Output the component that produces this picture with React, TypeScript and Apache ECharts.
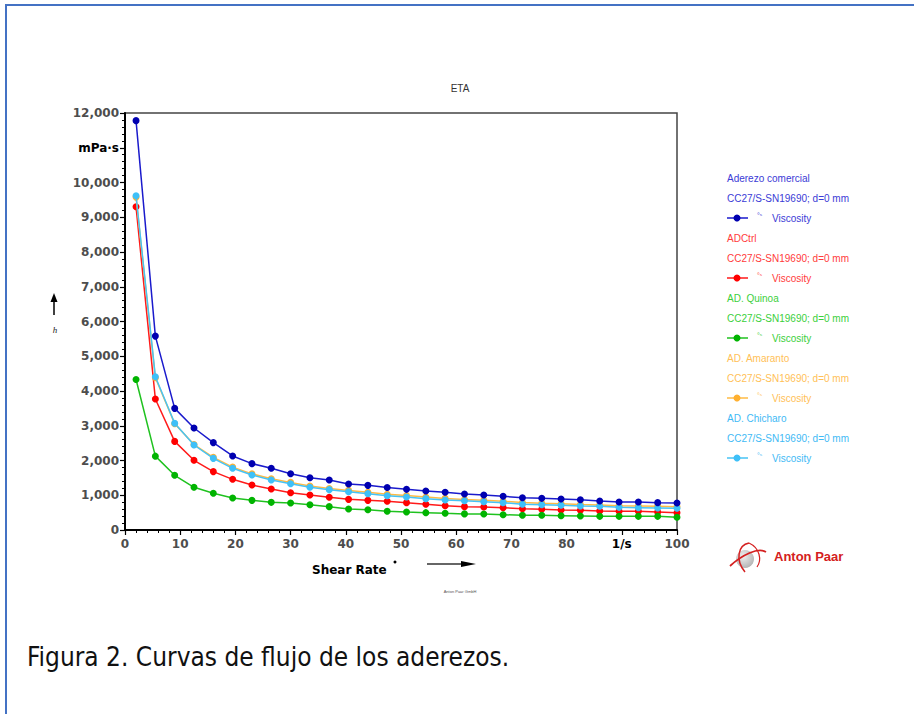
import React, { useEffect, useRef } from "react";
import * as echarts from "echarts";

// ---------- DATA ----------
const shearRate = [2, 5.5, 9, 12.5, 16, 19.5, 23, 26.5, 30, 33.5, 37, 40.5, 44, 47.5, 51, 54.5, 58, 61.5, 65, 68.5, 72, 75.5, 79, 82.5, 86, 89.5, 93, 96.5, 100];

const comercial = [11780, 5580, 3500, 2935, 2515, 2130, 1910, 1775, 1620, 1505, 1440, 1325, 1285, 1225, 1170, 1122, 1084, 1036, 1007, 969, 930, 911, 892, 873, 835, 806, 806, 787, 777];
const adCtrl = [9300, 3770, 2550, 2005, 1680, 1458, 1295, 1180, 1074, 1007, 940, 882, 853, 825, 787, 739, 700, 672, 662, 643, 614, 595, 576, 566, 547, 537, 537, 518, 499];
const quinoa = [4330, 2125, 1573, 1228, 1055, 921, 853, 796, 777, 729, 672, 604, 585, 542, 518, 499, 480, 464, 460, 441, 422, 422, 412, 403, 393, 393, 393, 393, 365];
const amaranto = [9580, 4380, 3060, 2460, 2090, 1810, 1615, 1475, 1370, 1265, 1195, 1140, 1085, 1030, 990, 950, 910, 880, 855, 830, 790, 770, 755, 735, 720, 700, 690, 680, 670];
const chicharo = [9620, 4412, 3070, 2446, 2062, 1775, 1583, 1439, 1333, 1228, 1161, 1103, 1046, 988, 950, 902, 863, 844, 815, 787, 739, 729, 710, 691, 681, 652, 643, 633, 624];

const seriesNames = ["Aderezo comercial", "ADCtrl", "AD. Quinoa", "AD. Amaranto", "AD. Chicharo"];
const seriesData = [comercial, adCtrl, quinoa, amaranto, chicharo];
const lineColors = ["#1a1acc", "#ff1a1a", "#1fc21f", "#ffbb44", "#47c3f5"];
const markerColors = ["#0000b0", "#ff0000", "#00b400", "#ffb030", "#3ec0f8"];
const legendTextColors = ["#3b3bd6", "#ff3b3b", "#3bcf3b", "#ffbf57", "#3fbaf5"];
const measuringSystem = "CC27/S-SN19690; d=0 mm";
const variableName = "Viscosity";

const xTickLabels = ["0", "10", "20", "30", "40", "50", "60", "70", "80", "1/s", "100"];
const yTickLabels = ["0", "1,000", "2,000", "3,000", "4,000", "5,000", "6,000", "7,000", "8,000", "9,000", "10,000", "mPa·s", "12,000"];

const title = "ETA";
const xAxisName = "Shear Rate";
const caption = "Figura 2. Curvas de flujo de los aderezos.";

export default function App() {
  const ref = useRef<HTMLDivElement>(null);

  useEffect(() => {
    if (!ref.current) return;
    const chart = echarts.init(ref.current, null, { renderer: "svg" });

    const axisFont = "DejaVu Sans";
    const rich = {
      n: { color: "#4d4d4d", fontWeight: "bold", fontSize: 12, fontFamily: axisFont },
      u: { color: "#000", fontWeight: "bold", fontSize: 12, fontFamily: axisFont },
    };
    const isUnit = (s: string) => /[a-z]/i.test(s);

    const drawOrder = [1, 2, 3, 4, 0];
    const series = drawOrder.map((i) => ({
      name: seriesNames[i],
      type: "line",
      data: shearRate.map((x, k) => [x, seriesData[i][k]]),
      symbol: "circle",
      symbolSize: 7,
      lineStyle: { color: lineColors[i], width: 1.5 },
      itemStyle: { color: markerColors[i] },
      z: 3 + drawOrder.indexOf(i),
    }));

    const legendX = 727;
    const legendY0 = 178;
    const rowH = 20;
    const legendGraphics: any[] = [];
    seriesNames.forEach((name, i) => {
      const y = legendY0 + i * 3 * rowH;
      legendGraphics.push({
        type: "text",
        x: legendX,
        y,
        style: { text: name, fill: legendTextColors[i], font: "10px 'Liberation Sans'", textVerticalAlign: "middle" },
      });
      legendGraphics.push({
        type: "text",
        x: legendX,
        y: y + rowH,
        style: { text: measuringSystem, fill: legendTextColors[i], font: "10px 'Liberation Sans'", textVerticalAlign: "middle" },
      });
      legendGraphics.push({
        type: "line",
        shape: { x1: legendX, y1: y + 2 * rowH, x2: legendX + 21, y2: y + 2 * rowH },
        style: { stroke: lineColors[i], lineWidth: 1.5 },
      });
      legendGraphics.push({
        type: "circle",
        shape: { cx: legendX + 10, cy: y + 2 * rowH, r: 3.5 },
        style: { fill: markerColors[i] },
      });
      legendGraphics.push({
        type: "text",
        x: legendX + 30,
        y: y + 2 * rowH - 3,
        style: { text: "°ˢ", fill: legendTextColors[i], font: "7px 'Liberation Sans'", textVerticalAlign: "middle" },
      });
      legendGraphics.push({
        type: "text",
        x: legendX + 45,
        y: y + 2 * rowH,
        style: { text: variableName, fill: legendTextColors[i], font: "10px 'Liberation Sans'", textVerticalAlign: "middle" },
      });
    });

    chart.setOption({
      animation: false,
      backgroundColor: "#ffffff",
      grid: {
        left: 125,
        right: 237,
        top: 113,
        bottom: 184,
        show: true,
        borderColor: "#444",
        borderWidth: 1.5,
        backgroundColor: "transparent",
      },
      xAxis: {
        type: "value",
        min: 0,
        max: 100,
        interval: 10,
        axisLine: { show: true, lineStyle: { color: "#000", width: 2 } },
        axisTick: { show: true, length: 5, lineStyle: { color: "#000", width: 1.2 } },
        minorTick: { show: true, splitNumber: 5, length: 3, lineStyle: { color: "#000", width: 1 } },
        splitLine: { show: false },
        axisLabel: {
          margin: 8,
          formatter: (v: number) => {
            const s = xTickLabels[Math.round(v / 10)] ?? "";
            return isUnit(s) ? `{u|${s}}` : `{n|${s}}`;
          },
          rich,
        },
      },
      yAxis: {
        type: "value",
        min: 0,
        max: 12000,
        interval: 1000,
        axisLine: { show: true, lineStyle: { color: "#000", width: 2 } },
        axisTick: { show: true, length: 5, lineStyle: { color: "#000", width: 1.2 } },
        minorTick: { show: true, splitNumber: 5, length: 3, lineStyle: { color: "#000", width: 1 } },
        splitLine: { show: false },
        axisLabel: {
          margin: 6,
          formatter: (v: number) => {
            const s = yTickLabels[Math.round(v / 1000)] ?? "";
            return isUnit(s) ? `{u|${s}}` : `{n|${s}}`;
          },
          rich,
        },
      },
      series,
      graphic: [
        { type: "rect", shape: { x: 5, y: 4, width: 909, height: 2 }, style: { fill: "#4472c4" }, silent: true },
        { type: "rect", shape: { x: 5, y: 4, width: 2, height: 710 }, style: { fill: "#4472c4" }, silent: true },
        {
          type: "text",
          x: 460,
          y: 88,
          style: { text: title, fill: "#333", font: "10px 'Liberation Sans'", textAlign: "center", textVerticalAlign: "middle" },
        },
        { type: "line", shape: { x1: 54, y1: 315, x2: 54, y2: 300 }, style: { stroke: "#000", lineWidth: 1.5 } },
        { type: "polygon", shape: { points: [[50.5, 302], [57.5, 302], [54, 293]] }, style: { fill: "#000" } },
        {
          type: "text",
          x: 55,
          y: 330,
          style: { text: "h", fill: "#222", font: "italic 9px 'Liberation Serif'", textAlign: "center", textVerticalAlign: "middle" },
        },
        {
          type: "text",
          x: 312,
          y: 570,
          style: { text: xAxisName, fill: "#000", font: "bold 12px 'DejaVu Sans'", textVerticalAlign: "middle" },
        },
        { type: "circle", shape: { cx: 395, cy: 562, r: 1.5 }, style: { fill: "#000" } },
        { type: "line", shape: { x1: 427, y1: 564, x2: 464, y2: 564 }, style: { stroke: "#333", lineWidth: 1.5 } },
        { type: "polygon", shape: { points: [[461, 561], [476, 564], [461, 567]] }, style: { fill: "#000" } },
        {
          type: "text",
          x: 460,
          y: 591,
          style: { text: "Anton Paar GmbH", fill: "#555", font: "4px 'Liberation Sans'", textAlign: "center", textVerticalAlign: "middle" },
        },
        {
          type: "circle",
          shape: { cx: 745, cy: 559, r: 9 },
          style: {
            fill: new echarts.graphic.RadialGradient(0.4, 0.35, 0.8, [
              { offset: 0, color: "#f0f0f0" },
              { offset: 1, color: "#a8a8a8" },
            ]),
          },
        },
        {
          type: "bezierCurve",
          shape: { x1: 730, y1: 566, x2: 766, y2: 552, cpx1: 742, cpy1: 555, cpx2: 758, cpy2: 547 },
          style: { stroke: "#d42020", lineWidth: 1.8, fill: "none" },
        },
        {
          type: "bezierCurve",
          shape: { x1: 745, y1: 572, x2: 749, y2: 543, cpx1: 735, cpy1: 560, cpx2: 738, cpy2: 545 },
          style: { stroke: "#d42020", lineWidth: 1.5, fill: "none" },
        },
        {
          type: "bezierCurve",
          shape: { x1: 749, y1: 543, x2: 757, y2: 567, cpx1: 760, cpy1: 548, cpx2: 762, cpy2: 560 },
          style: { stroke: "#d42020", lineWidth: 1.2, fill: "none" },
        },
        {
          type: "text",
          x: 774,
          y: 556,
          style: { text: "Anton Paar", fill: "#d42020", font: "bold 13px 'Liberation Sans'", textVerticalAlign: "middle" },
        },
        {
          type: "text",
          x: 27,
          y: 657,
          style: { text: caption, fill: "#111", font: "26px 'DejaVu Sans Condensed'", textVerticalAlign: "middle" },
        },
        ...legendGraphics,
      ],
    });

    return () => chart.dispose();
  }, []);

  return <div ref={ref} style={{ position: "fixed", left: 0, top: 0, width: 914, height: 714 }} />;
}
